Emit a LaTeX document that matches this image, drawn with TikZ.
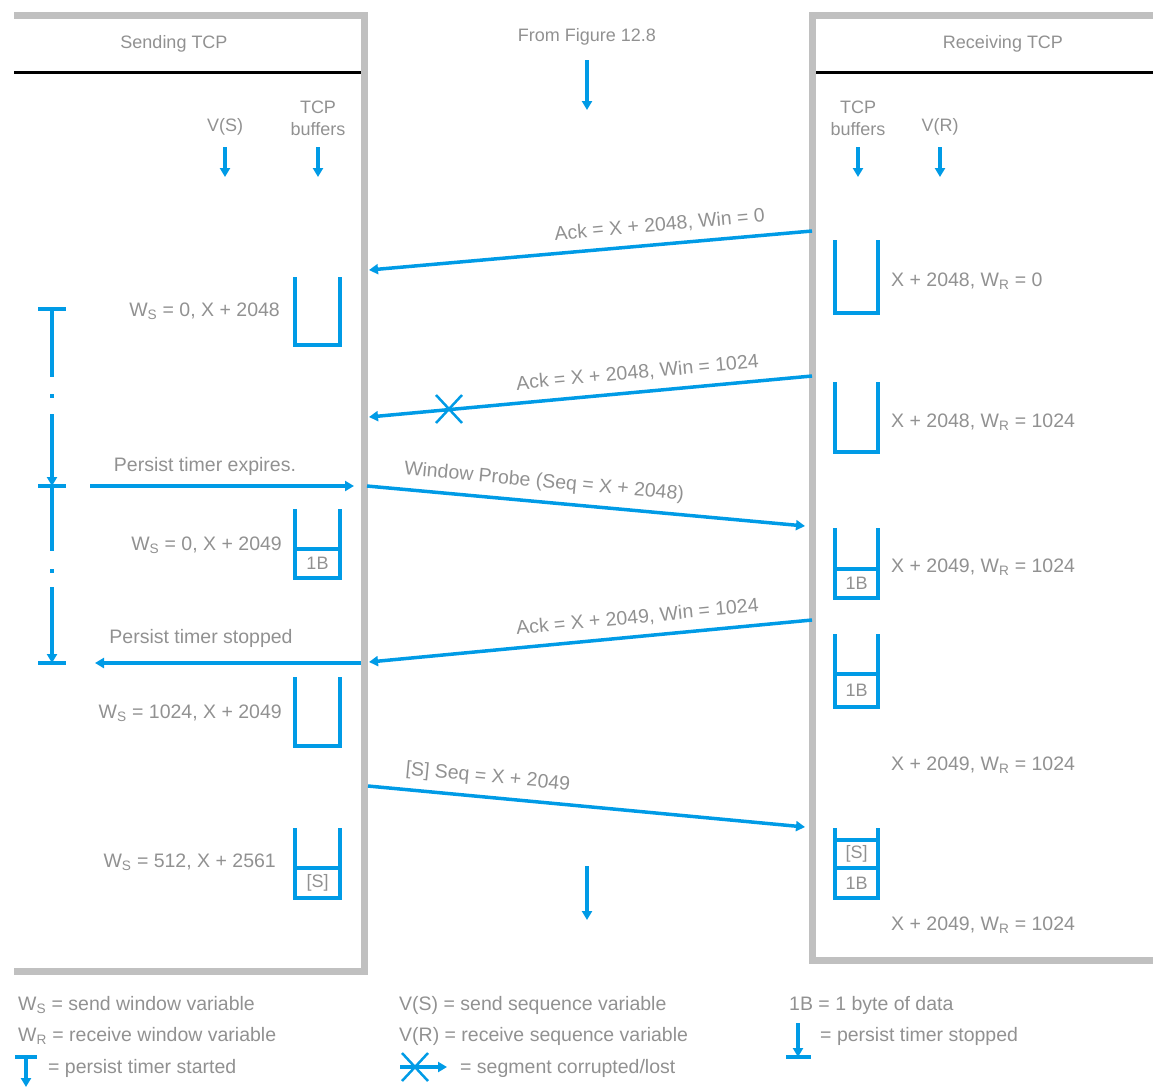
\documentclass[tikz,border=0pt]{standalone}
\usepackage{fontspec}
\setmainfont{Liberation Sans}
\usetikzlibrary{arrows.meta}
\definecolor{tblue}{RGB}{0,155,230}
\definecolor{tgray}{RGB}{145,145,145}
\definecolor{boxgray}{RGB}{192,192,192}
\newcommand{\bufU}[4]{\draw[buf] (#1,#3) -- (#1,#4) -- (#2,#4) -- (#2,#3);}
\newcommand{\xmark}[2]{\draw[tblue, line width=2.5pt] (#1-13,#2-14) -- (#1+13,#2+14) (#1-13,#2+14) -- (#1+13,#2-14);}
\begin{document}
\begin{tikzpicture}[x=1pt,y=-1pt,
  every node/.style={font=\fontsize{19.5}{23}\selectfont, text=tgray, inner sep=0pt},
  head/.style={font=\fontsize{18}{22}\selectfont},
  frame/.style={draw=boxgray, line width=7pt, line join=miter},
  rulel/.style={draw=black, line width=3.5pt},
  tip/.style={-{Triangle[length=9pt,width=10pt]}},
  msg/.style={draw=tblue, line width=3.5pt, tip},
  bline/.style={draw=tblue, line width=3.5pt},
  buf/.style={draw=tblue, line width=3.5pt, line join=miter},
  lbl/.style={above=9pt, sloped},
]
\useasboundingbox (0,0) rectangle (1153,1088);

% frames
\draw[frame] (14,15.5) -- (364.5,15.5) -- (364.5,971.5) -- (14,971.5);
\draw[frame] (1153,15.5) -- (812.5,15.5) -- (812.5,960) -- (1153,960);
\draw[rulel] (14,72.5) -- (361,72.5);
\draw[rulel] (816,72.5) -- (1153,72.5);

% headers
\node[head] (hs) at (174,44) {Sending TCP};
\node[head] (hr) at (1003,44) {Receiving TCP};
\node[head] (hf) at (587,37) {From Figure 12.8};
\node[head] (vs) at (225,127) {V(S)};
\node[head, align=center] (tbs) at (318,118) {TCP\\buffers};
\node[head, align=center] (tbr) at (858,118) {TCP\\buffers};
\node[head] (vr) at (940,127) {V(R)};

% small column arrows
\coordinate (vsa) at (225,147); \coordinate (vsb) at (225,177);
\coordinate (tbsa) at (318,147); \coordinate (tbsb) at (318,177);
\coordinate (tbra) at (858,147); \coordinate (tbrb) at (858,177);
\coordinate (vra) at (940,147); \coordinate (vrb) at (940,177);
\coordinate (fa) at (587,60); \coordinate (fb) at (587,110);
\coordinate (ca) at (587,866); \coordinate (cb) at (587,920);
\foreach \a/\b in {vsa/vsb,tbsa/tbsb,tbra/tbrb,vra/vrb,fa/fb,ca/cb}
  \draw[msg] (\a) -- (\b);

% message end points
\coordinate (r1) at (812,231); \coordinate (l1) at (369,270);
\coordinate (r2) at (812,376); \coordinate (l2) at (369,417);
\coordinate (pe0) at (90,486); \coordinate (pe1) at (354,486);
\coordinate (p0) at (367,486); \coordinate (p1) at (805,526);
\coordinate (r3) at (812,620); \coordinate (l3) at (369,662);
\coordinate (ps0) at (361,663); \coordinate (ps1) at (95,663);
\coordinate (d0) at (368,786); \coordinate (d1) at (805,827);

\draw[msg] (r1) -- node[lbl, pos=0.34] (m1) {Ack = X + 2048, Win = 0} (l1);
\draw[msg] (r2) -- node[lbl, pos=0.39] (m2) {Ack = X + 2048, Win = 1024} (l2);
\xmark{449}{409}
\draw[msg] (pe0) -- (pe1);
\node (pexp) at (205,466) {Persist timer expires.};
\draw[msg] (p0) -- node[lbl, pos=0.40] (m3) {Window Probe (Seq = X + 2048)} (p1);
\draw[msg] (r3) -- node[lbl, pos=0.39] (m4) {Ack = X + 2049, Win = 1024} (l3);
\draw[msg] (ps0) -- (ps1);
\node (pstop) at (201,638) {Persist timer stopped};
\draw[msg] (d0) -- node[lbl, pos=0.27] (m5) {[S] Seq = X + 2049} (d1);

% sender buffers
\bufU{295}{340}{277}{345}
\bufU{295}{340}{509}{578}
\draw[buf] (295,549) -- (340,549);
\node[head] (sb2) at (317.5,563.5) {1B};
\bufU{295}{340}{677}{746}
\bufU{295}{340}{828}{898}
\draw[buf] (295,868) -- (340,868);
\node[head] (sb4) at (317.5,883) {[S]};

% receiver buffers
\bufU{835}{878}{240}{313}
\bufU{835}{878}{382}{452}
\bufU{835}{878}{528}{598}
\draw[buf] (835,569) -- (878,569);
\node[head] (rb3) at (856.5,583.5) {1B};
\bufU{835}{878}{634}{707}
\draw[buf] (835,674) -- (878,674);
\node[head] (rb4) at (856.5,690.5) {1B};
\bufU{835}{878}{828}{898}
\draw[buf] (835,840) -- (878,840);
\draw[buf] (835,868) -- (878,868);
\node[head] (rb5a) at (856.5,854) {[S]};
\node[head] (rb5b) at (856.5,883) {1B};

% sender state labels
\node[anchor=east] (s1) at (280,311) {W\textsubscript{S} = 0, X + 2048};
\node[anchor=east] (s2) at (282,545) {W\textsubscript{S} = 0, X + 2049};
\node[anchor=east] (s3) at (282,713) {W\textsubscript{S} = 1024, X + 2049};
\node[anchor=east] (s4) at (276,862) {W\textsubscript{S} = 512, X + 2561};

% receiver state labels
\node[anchor=west] (q1) at (891,281) {X + 2048, W\textsubscript{R} = 0};
\node[anchor=west] (q2) at (891,422) {X + 2048, W\textsubscript{R} = 1024};
\node[anchor=west] (q3) at (891,567) {X + 2049, W\textsubscript{R} = 1024};
\node[anchor=west] (q4) at (891,765) {X + 2049, W\textsubscript{R} = 1024};
\node[anchor=west] (q5) at (891,925) {X + 2049, W\textsubscript{R} = 1024};

% persist timer line
\draw[bline] (38,309) -- (66,309);
\draw[bline] (52,309) -- (52,377);
\fill[tblue] (50,394) rectangle (54,398);
\draw[msg] (52,414) -- (52,486);
\draw[bline] (38,486) -- (66,486);
\draw[bline] (52,486) -- (52,551);
\fill[tblue] (50,569) rectangle (54,573);
\draw[msg] (52,587) -- (52,663);
\draw[bline] (38,663) -- (66,663);

% legend
\node[anchor=west] (k1) at (18,1005) {W\textsubscript{S} = send window variable};
\node[anchor=west] (k2) at (18,1036) {W\textsubscript{R} = receive window variable};
\node[anchor=west] (k3) at (399,1005) {V(S) = send sequence variable};
\node[anchor=west] (k4) at (399,1036) {V(R) = receive sequence variable};
\node[anchor=west] (k5) at (789,1005) {1B = 1 byte of data};
\node[anchor=west] (k6) at (820,1036) {= persist timer stopped};
\node[anchor=west] (k7) at (48,1068) {= persist timer started};
\node[anchor=west] (k8) at (460,1068) {= segment corrupted/lost};
% legend icons
\draw[bline] (15,1057) -- (37,1057);
\draw[msg] (26,1057) -- (26,1087);
\draw[msg] (798,1023) -- (798,1057);
\draw[bline] (786,1057) -- (811,1057);
\draw[msg] (400,1067) -- (447,1067);
\xmark{415}{1067}
\end{tikzpicture}
\end{document}
